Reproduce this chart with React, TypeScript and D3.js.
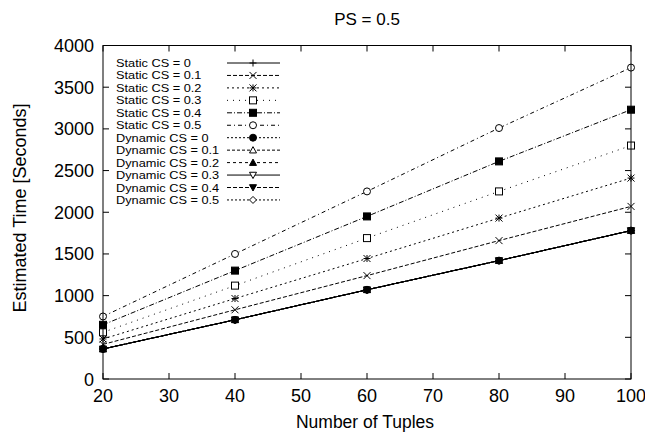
import React, { useRef, useEffect } from 'react';
import * as d3 from 'd3';

const tuples = [20, 40, 60, 80, 100];
const xTicks = [20, 30, 40, 50, 60, 70, 80, 90, 100];
const yTicks = [0, 500, 1000, 1500, 2000, 2500, 3000, 3500, 4000];

const static0 = [360, 710, 1070, 1420, 1780];
const static1 = [415, 830, 1240, 1660, 2070];
const static2 = [480, 965, 1445, 1930, 2410];
const static3 = [560, 1120, 1690, 2250, 2800];
const static4 = [650, 1300, 1950, 2610, 3230];
const static5 = [750, 1500, 2250, 3010, 3735];
const dynamic0 = [360, 710, 1070, 1420, 1780];
const dynamic1 = [360, 710, 1070, 1420, 1780];
const dynamic2 = [360, 710, 1070, 1420, 1780];
const dynamic3 = [360, 710, 1070, 1420, 1780];
const dynamic4 = [360, 710, 1070, 1420, 1780];
const dynamic5 = [360, 710, 1070, 1420, 1780];

const seriesNames = [
  'Static CS = 0', 'Static CS = 0.1', 'Static CS = 0.2', 'Static CS = 0.3',
  'Static CS = 0.4', 'Static CS = 0.5', 'Dynamic CS = 0', 'Dynamic CS = 0.1',
  'Dynamic CS = 0.2', 'Dynamic CS = 0.3', 'Dynamic CS = 0.4', 'Dynamic CS = 0.5',
];
const seriesValues = [static0, static1, static2, static3, static4, static5,
  dynamic0, dynamic1, dynamic2, dynamic3, dynamic4, dynamic5];
const dashes = ['', '4,2', '2,3', '1,5', '5,2,1,2', '4,3,1,3', '2,2', '3,2', '3,3', '', '4,2', '2,2'];
const markers = ['plus', 'cross', 'star', 'square', 'squareF', 'circle', 'circleF',
  'tri', 'triF', 'itri', 'itriF', 'diamond'];
// filled circle of Dynamic CS = 0 ends up on top, as in the original
const markerOrder = [0, 1, 2, 3, 4, 5, 11, 10, 9, 8, 7, 6];

function drawMarker(g: any, type: string, x: number, y: number) {
  const s = 3.5;
  if (type === 'plus') {
    g.append('path').attr('d', `M${x - s},${y}H${x + s}M${x},${y - s}V${y + s}`).attr('stroke', '#000').attr('fill', 'none');
  } else if (type === 'cross') {
    g.append('path').attr('d', `M${x - s},${y - s}L${x + s},${y + s}M${x - s},${y + s}L${x + s},${y - s}`).attr('stroke', '#000').attr('fill', 'none');
  } else if (type === 'star') {
    g.append('path').attr('d', `M${x - s},${y - s}L${x + s},${y + s}M${x - s},${y + s}L${x + s},${y - s}M${x - s},${y}H${x + s}M${x},${y - s}V${y + s}`).attr('stroke', '#000').attr('fill', 'none');
  } else if (type === 'square' || type === 'squareF') {
    g.append('rect').attr('x', x - s).attr('y', y - s).attr('width', 2 * s).attr('height', 2 * s)
      .attr('stroke', '#000').attr('fill', type === 'squareF' ? '#000' : '#fff');
  } else if (type === 'circle' || type === 'circleF') {
    g.append('circle').attr('cx', x).attr('cy', y).attr('r', s)
      .attr('stroke', '#000').attr('fill', type === 'circleF' ? '#000' : '#fff');
  } else if (type === 'tri' || type === 'triF') {
    g.append('path').attr('d', `M${x},${y - s}L${x + s},${y + s * 0.8}L${x - s},${y + s * 0.8}Z`)
      .attr('stroke', '#000').attr('fill', type === 'triF' ? '#000' : '#fff');
  } else if (type === 'itri' || type === 'itriF') {
    g.append('path').attr('d', `M${x},${y + s}L${x + s},${y - s * 0.8}L${x - s},${y - s * 0.8}Z`)
      .attr('stroke', '#000').attr('fill', type === 'itriF' ? '#000' : '#fff');
  } else if (type === 'diamond') {
    g.append('path').attr('d', `M${x},${y - s}L${x + s},${y}L${x},${y + s}L${x - s},${y}Z`)
      .attr('stroke', '#000').attr('fill', '#fff');
  }
}

const Chart = () => {
  const svgRef = useRef<SVGSVGElement>(null);

  useEffect(() => {
    const svg = d3.select(svgRef.current);
    svg.selectAll('*').remove();

    const width = 645;
    const height = 432;
    const margin = { top: 45.5, right: 14, bottom: 53, left: 103 };
    const font = '"Liberation Sans", Arial, sans-serif';

    const x = d3.scaleLinear().domain([20, 100]).range([margin.left, width - margin.right]);
    const y = d3.scaleLinear().domain([0, 4000]).range([height - margin.bottom, margin.top]);

    // series
    seriesValues.forEach((vals, i) => {
      const line = d3.line<number>().x((_, j) => x(tuples[j])).y(d => y(d));
      svg.append('path')
        .attr('d', line(vals))
        .attr('fill', 'none')
        .attr('stroke', '#000')
        .attr('stroke-width', 1)
        .attr('stroke-dasharray', dashes[i]);
    });
    markerOrder.forEach(i => {
      seriesValues[i].forEach((v, j) => drawMarker(svg, markers[i], x(tuples[j]), y(v)));
    });

    // frame
    svg.append('rect')
      .attr('x', margin.left).attr('y', margin.top)
      .attr('width', width - margin.left - margin.right)
      .attr('height', height - margin.top - margin.bottom)
      .attr('fill', 'none').attr('stroke', '#000');

    const tl = 6;
    xTicks.forEach(t => {
      svg.append('line').attr('x1', x(t)).attr('x2', x(t))
        .attr('y1', y(0)).attr('y2', y(0) - tl).attr('stroke', '#000');
      svg.append('line').attr('x1', x(t)).attr('x2', x(t))
        .attr('y1', y(4000)).attr('y2', y(4000) + tl).attr('stroke', '#000');
      svg.append('text').attr('x', x(t)).attr('y', y(0) + 23)
        .attr('text-anchor', 'middle').attr('font-family', font).attr('font-size', 18)
        .text(t);
    });
    yTicks.forEach(t => {
      svg.append('line').attr('x1', x(20)).attr('x2', x(20) + tl)
        .attr('y1', y(t)).attr('y2', y(t)).attr('stroke', '#000');
      svg.append('line').attr('x1', x(100)).attr('x2', x(100) - tl)
        .attr('y1', y(t)).attr('y2', y(t)).attr('stroke', '#000');
      svg.append('text').attr('x', x(20) - 9).attr('y', y(t) + 6.5)
        .attr('text-anchor', 'end').attr('font-family', font).attr('font-size', 18)
        .text(t);
    });

    // legend (text slightly widened so rows do not collide)
    const lg = svg.append('g');
    seriesNames.forEach((name, i) => {
      const ly = 63 + i * 12.45;
      lg.append('text').attr('transform', `translate(116, ${ly + 4}) scale(1.14, 1)`)
        .attr('font-family', font).attr('font-size', 11.2).text(name);
      lg.append('line').attr('x1', 227).attr('x2', 280).attr('y1', ly).attr('y2', ly)
        .attr('stroke', '#000').attr('stroke-dasharray', dashes[i]);
      drawMarker(lg, markers[i], 253, ly);
    });

    // title and labels
    svg.append('text').attr('x', 367).attr('y', 25).attr('text-anchor', 'middle')
      .attr('font-family', font).attr('font-size', 17).text('PS = 0.5');
    svg.append('text').attr('x', 365).attr('y', 428).attr('text-anchor', 'middle')
      .attr('font-family', font).attr('font-size', 17.5).text('Number of Tuples');
    svg.append('text').attr('transform', `translate(26, 208) rotate(-90)`)
      .attr('text-anchor', 'middle')
      .attr('font-family', font).attr('font-size', 18).text('Estimated Time [Seconds]');
  }, []);

  return <svg ref={svgRef} width={645} height={432} style={{ display: 'block' }}></svg>;
};

export default function App() {
  return (
    <div style={{ position: 'fixed', left: 0, top: 0, width: 645, height: 432, overflow: 'hidden', background: '#fff' }}>
      <Chart />
    </div>
  );
}
